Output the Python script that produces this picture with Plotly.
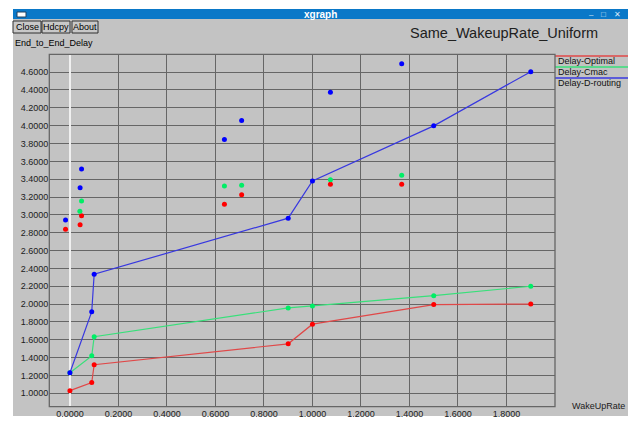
import plotly.graph_objects as go

W, H = 633, 421

# ---- data ----
series_names = ["Delay-Optimal", "Delay-Cmac", "Delay-D-routing"]
line_colors = ["#e04848", "#38e07a", "#3838e0"]
marker_colors = ["#ff0000", "#00ee66", "#0000ff"]

optimal_x = [0.0, 0.09, 0.1, 0.9, 1.0, 1.5, 1.9]
optimal_y = [1.03, 1.12, 1.32, 1.555, 1.775, 1.995, 2.0]

cmac_x = [0.0, 0.09, 0.1, 0.9, 1.0, 1.5, 1.9]
cmac_y = [1.23, 1.42, 1.635, 1.957, 1.98, 2.095, 2.2]

drouting_x = [0.0, 0.09, 0.1, 0.9, 1.0, 1.5, 1.9]
drouting_y = [1.23, 1.915, 2.335, 2.963, 3.38, 3.998, 4.605]

# unconnected points
optimal_pts_x = [-0.018, 0.042, 0.048, 0.637, 0.708, 1.074, 1.368]
optimal_pts_y = [2.84, 2.89, 2.99, 3.12, 3.227, 3.343, 3.343]

cmac_pts_x = [0.041, 0.048, 0.637, 0.708, 1.074, 1.368]
cmac_pts_y = [3.04, 3.156, 3.324, 3.332, 3.394, 3.443]

drouting_pts_x = [-0.018, 0.042, 0.048, 0.637, 0.708, 1.074, 1.368]
drouting_pts_y = [2.944, 3.305, 3.514, 3.846, 4.058, 4.374, 4.695]

x_ticks = [0.0, 0.2, 0.4, 0.6, 0.8, 1.0, 1.2, 1.4, 1.6, 1.8]
y_ticks = [1.0, 1.2, 1.4, 1.6, 1.8, 2.0, 2.2, 2.4, 2.6, 2.8, 3.0, 3.2, 3.4,
           3.6, 3.8, 4.0, 4.2, 4.4, 4.6]

title_text = "Same_WakeupRate_Uniform"
y_label = "End_to_End_Delay"
x_label = "WakeUpRate"
window_title = "xgraph"
buttons = ["Close", "Hdcpy", "About"]

# ---- helpers (pixel -> paper) ----
def px(x):
    return x / W

def py(y):
    return 1 - y / H

FONT = "Liberation Sans, DejaVu Sans, sans-serif"
GRID = "#666666"

fig = go.Figure()

lines = [(optimal_x, optimal_y), (cmac_x, cmac_y), (drouting_x, drouting_y)]
pts = [(optimal_pts_x, optimal_pts_y), (cmac_pts_x, cmac_pts_y),
       (drouting_pts_x, drouting_pts_y)]

for i, name in enumerate(series_names):
    fig.add_trace(go.Scatter(
        x=lines[i][0], y=lines[i][1], mode="lines+markers", name=name,
        line=dict(color=line_colors[i], width=1.2),
        marker=dict(color=marker_colors[i], size=5),
        showlegend=False, cliponaxis=False))
    fig.add_trace(go.Scatter(
        x=pts[i][0], y=pts[i][1], mode="markers", name=name,
        marker=dict(color=marker_colors[i], size=5),
        showlegend=False))

shapes = []
annotations = []

# background of window
shapes.append(dict(type="rect", xref="paper", yref="paper", layer="below",
                   x0=px(13), x1=px(628), y0=py(416), y1=py(19),
                   fillcolor="#c3c3c3", line=dict(width=0)))
# title bar
shapes.append(dict(type="rect", xref="paper", yref="paper", layer="below",
                   x0=px(13), x1=px(628), y0=py(19), y1=py(9),
                   fillcolor="#0a78c8", line=dict(width=0)))
shapes.append(dict(type="rect", xref="paper", yref="paper", layer="above",
                   x0=px(17), x1=px(26), y0=py(17), y1=py(12),
                   fillcolor="#ffffff", line=dict(color="#204060", width=1)))
annotations.append(dict(text="<b>" + window_title + "</b>", xref="paper", yref="paper",
                        x=px(320), y=py(14), showarrow=False,
                        font=dict(family=FONT, size=10, color="#ffffff"),
                        xanchor="center", yanchor="middle"))
for bx, sym in [(591, "–"), (603, "□"), (617, "✕")]:
    annotations.append(dict(text=sym, xref="paper", yref="paper",
                            x=px(bx), y=py(14), showarrow=False,
                            font=dict(family=FONT, size=8, color="#d8e8f8"),
                            xanchor="center", yanchor="middle"))

# buttons
bpos = [(13, 41), (42, 70), (72, 98)]
for (x0, x1), b in zip(bpos, buttons):
    shapes.append(dict(type="rect", xref="paper", yref="paper", layer="above",
                       x0=px(x0), x1=px(x1), y0=py(33), y1=py(21),
                       fillcolor="#c8c8c8", line=dict(color="#303030", width=1)))
    annotations.append(dict(text=b, xref="paper", yref="paper",
                            x=px((x0 + x1) / 2), y=py(27), showarrow=False,
                            font=dict(family=FONT, size=9, color="#000000"),
                            xanchor="center", yanchor="middle"))

annotations.append(dict(text=y_label, xref="paper", yref="paper",
                        x=px(13), y=py(43), showarrow=False,
                        font=dict(family=FONT, size=9, color="#000000"),
                        xanchor="left", yanchor="middle"))
annotations.append(dict(text=title_text, xref="paper", yref="paper",
                        x=px(600), y=py(33), showarrow=False,
                        font=dict(family=FONT, size=14.5, color="#202020"),
                        xanchor="right", yanchor="middle"))
annotations.append(dict(text=x_label, xref="paper", yref="paper",
                        x=px(627), y=py(406), showarrow=False,
                        font=dict(family=FONT, size=9, color="#202020"),
                        xanchor="right", yanchor="middle"))

# manual legend
for i, name in enumerate(series_names):
    ly = 56 + i * 11
    shapes.append(dict(type="line", xref="paper", yref="paper", layer="above",
                       x0=px(555), x1=px(628), y0=py(ly), y1=py(ly),
                       line=dict(color=line_colors[i], width=1.5)))
    annotations.append(dict(text=name, xref="paper", yref="paper",
                            x=px(556), y=py(ly + 5), showarrow=False,
                            font=dict(family=FONT, size=9, color="#101010"),
                            xanchor="left", yanchor="middle"))

# plot frame
shapes.append(dict(type="rect", xref="paper", yref="paper", layer="above",
                   x0=px(49.3), x1=px(555), y0=py(406.7), y1=py(54.3),
                   line=dict(color=GRID, width=1.3)))

fig.update_layout(
    width=W, height=H,
    margin=dict(l=0, r=0, t=0, b=0),
    paper_bgcolor="#ffffff",
    plot_bgcolor="#c3c3c3",
    shapes=shapes,
    annotations=annotations,
    showlegend=False,
    xaxis=dict(domain=[px(49.3), px(555)], range=[-0.085, 2.0],
               tickvals=x_ticks, ticktext=["%.4f" % v for v in x_ticks],
               showgrid=True, gridcolor=GRID, gridwidth=1.3,
               zeroline=True, zerolinecolor="#f0f0f0", zerolinewidth=2,
               ticks="", showline=False,
               tickfont=dict(family=FONT, size=9, color="#202020")),
    yaxis=dict(domain=[py(406.7), py(54.3)], range=[0.85, 4.8],
               tickvals=y_ticks, ticktext=["%.4f" % v for v in y_ticks],
               showgrid=True, gridcolor=GRID, gridwidth=1.3,
               zeroline=False, ticks="", showline=False,
               tickfont=dict(family=FONT, size=9, color="#202020")),
)

fig.write_html("out.html", config={"displayModeBar": False},
               post_script="document.body.style.margin='0';document.body.style.overflow='hidden';")
